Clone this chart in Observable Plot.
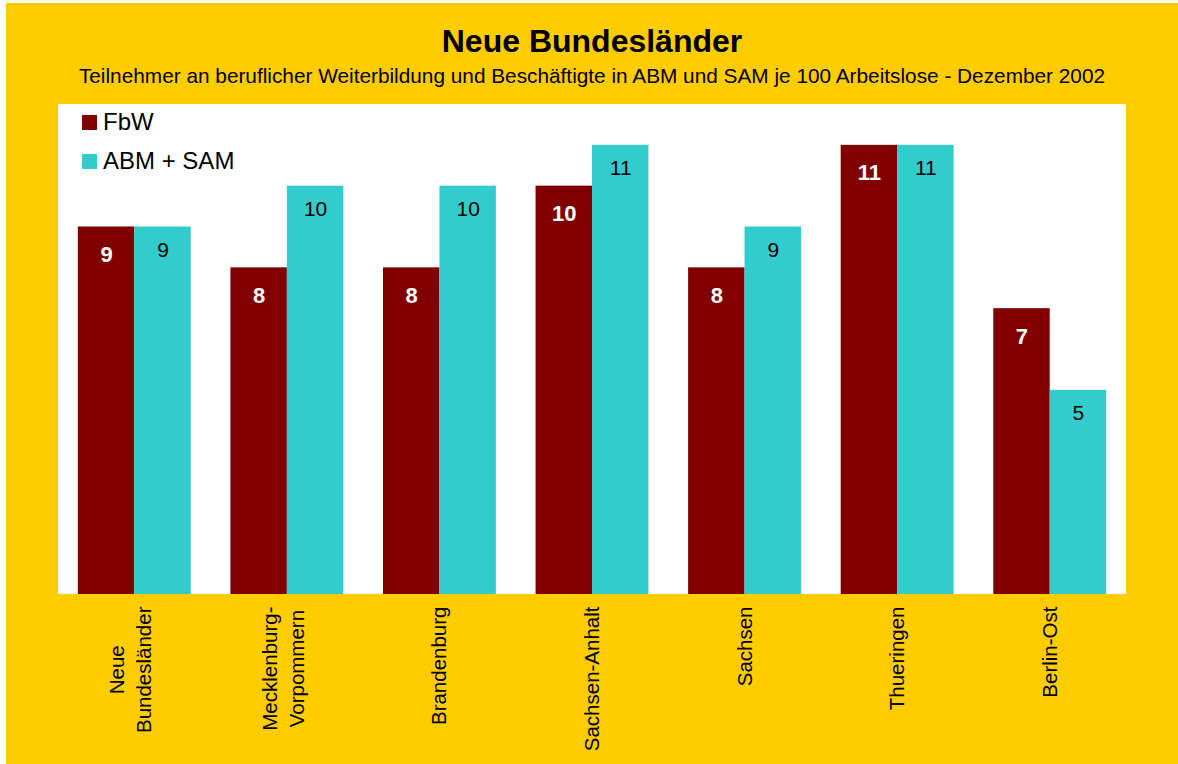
<!DOCTYPE html>
<html>
<head>
<meta charset="utf-8">
<script src="https://cdn.jsdelivr.net/npm/d3@7"></script>
<script src="https://cdn.jsdelivr.net/npm/@observablehq/plot@0.6"></script>
<style>
  html, body { margin: 0; padding: 0; background: #ffffff; }
  body { width: 1178px; height: 764px; overflow: hidden; position: relative; font-family: "Liberation Sans", Arial, sans-serif; }
  #frame { position: absolute; left: 6px; top: 3px; width: 1172px; height: 761px; background: #FFCC00; }
  #title { position: absolute; left: 0; width: 1172px; top: 21.9px; text-align: center; font-size: 32px; line-height: 32px; font-weight: bold; color: #000; }
  #subtitle { position: absolute; left: 0; width: 1172px; top: 63.4px; text-align: center; font-size: 20.8px; line-height: 20.8px; color: #000; }
  #plotbg { position: absolute; left: 52px; top: 101px; width: 1068px; height: 490px; background: #ffffff; }
  #chart { position: absolute; left: 0; top: 91px; }
  #legend { position: absolute; left: 76px; top: 106.5px; }
  .item { position: absolute; left: 0; white-space: nowrap; font-size: 24px; line-height: 24px; color: #000; }
  .sw { position: absolute; left: 0; width: 15px; height: 15px; }
  .lt { position: absolute; left: 21px; top: 0; }
</style>
</head>
<body>
<div id="frame">
  <div id="title"></div>
  <div id="subtitle"></div>
  <div id="plotbg"></div>
  <div id="chart"></div>
  <div id="legend"></div>
</div>
<script>
const titleText = "Neue Bundesländer";
const subtitleText = "Teilnehmer an beruflicher Weiterbildung und Beschäftigte in ABM und SAM je 100 Arbeitslose - Dezember 2002";
const categories = ["Neue\nBundesländer", "Mecklenburg-\nVorpommern", "Brandenburg", "Sachsen-Anhalt", "Sachsen", "Thueringen", "Berlin-Ost"];
const series = ["FbW", "ABM + SAM"];
const fbw = [9, 8, 8, 10, 8, 11, 7];
const abmSam = [9, 10, 10, 11, 9, 11, 5];
const colors = ["#800000", "#33CCCC"];

document.getElementById("title").textContent = titleText;
document.getElementById("subtitle").textContent = subtitleText;

const data = [];
categories.forEach((c, i) => {
  data.push({category: c, series: series[0], value: fbw[i]});
  data.push({category: c, series: series[1], value: abmSam[i]});
});

const chart = Plot.plot({
  width: 1172,
  height: 670,
  marginLeft: 52,
  marginRight: 52,
  marginTop: 10,
  marginBottom: 170,
  style: {background: "transparent", fontFamily: "'Liberation Sans', Arial, sans-serif", color: "#000"},
  fx: {domain: categories, paddingInner: 0.26, paddingOuter: 0.13, round: false, label: null},
  x: {domain: series, padding: 0, round: false, axis: null},
  y: {domain: [0, 12], axis: null},
  color: {domain: series, range: colors},
  marks: [
    Plot.barY(data, {fx: "category", x: "series", y: "value", fill: "series"}),
    Plot.text(data.filter(d => d.series === series[0]), {fx: "category", x: "series", y: "value", text: d => String(d.value), dy: 28, fill: "white", fontWeight: "bold", fontSize: 22}),
    Plot.text(data.filter(d => d.series === series[1]), {fx: "category", x: "series", y: "value", text: d => String(d.value), dy: 23, fill: "black", fontSize: 21}),
    Plot.axisFx({anchor: "bottom", tickRotate: -90, tickSize: 0, tickPadding: 12, fontSize: 20.5, label: null, fill: "black"})
  ]
});
document.getElementById("chart").appendChild(chart);

// multi-line tick labels: lines centered on each other, 1.32em line spacing
const lh = 1.32;
chart.querySelectorAll("text").forEach(t => {
  const spans = t.querySelectorAll("tspan");
  const n = spans.length;
  if (n > 1) {
    let L = 0;
    spans.forEach(s => { L = Math.max(L, s.getComputedTextLength()); });
    t.setAttribute("text-anchor", "middle");
    spans.forEach((s, i) => {
      s.setAttribute("x", -L / 2);
      s.setAttribute("dy", (i === 0 ? (-(n - 1) / 2 * lh + 0.32) : lh) + "em");
    });
  }
});

const legend = document.getElementById("legend");
series.forEach((s, i) => {
  const item = document.createElement("div");
  item.className = "item";
  item.style.top = (i * 39) + "px";
  const sw = document.createElement("div");
  sw.className = "sw";
  sw.style.background = colors[i];
  sw.style.top = "5px";
  const lt = document.createElement("div");
  lt.className = "lt";
  lt.textContent = s;
  item.appendChild(sw);
  item.appendChild(lt);
  legend.appendChild(item);
});
</script>
</body>
</html>
